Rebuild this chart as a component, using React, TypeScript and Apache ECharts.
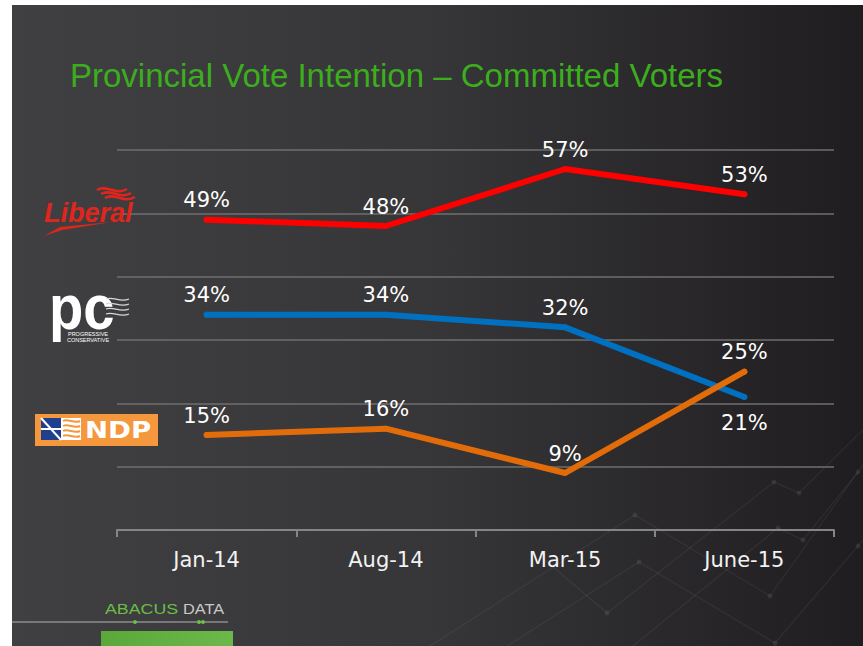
import React, { useEffect, useRef } from "react";
import * as echarts from "echarts";

const categories = ["Jan-14", "Aug-14", "Mar-15", "June-15"];
const liberal = [49, 48, 57, 53];
const pcVotes = [34, 34, 32, 21];
const ndp = [15, 16, 9, 25];
const yMin = 0;
const yMax = 60;
const yInterval = 10;

const titleText = "Provincial Vote Intention \u2013 Committed Voters";

const decoLines: number[][][] = [
  [[430, 646], [635, 515], [770, 596], [858, 472], [863, 465]],
  [[540, 556], [607, 613], [774, 482], [799, 493], [863, 430]],
  [[507, 646], [639, 562], [775, 643], [858, 546], [863, 540]],
  [[633, 646], [778, 528], [803, 540], [858, 472]],
];
const decoDots: number[][] = [
  [635, 515], [770, 596], [858, 472], [607, 613], [774, 482], [799, 493],
  [639, 562], [775, 643], [858, 546], [778, 528], [803, 540],
];

export default function App() {
  const ref = useRef<HTMLDivElement>(null);
  useEffect(() => {
    if (!ref.current) return;
    const chart = echarts.init(ref.current, undefined, { renderer: "svg" });
    const font = "DejaVu Sans";
    const mkLabel = (pos: string, dist: number) => ({
      show: true,
      position: pos,
      distance: dist,
      color: "#ffffff",
      fontSize: 21,
      fontFamily: font,
      formatter: "{c}%",
    });
    const mkSeries = (name: string, data: number[], color: string, belowIdx: number = -1) => ({
      name,
      type: "line",
      data: data.map((v, i) =>
        i === belowIdx ? { value: v, label: mkLabel("bottom", 12) } : v
      ),
      symbol: "circle",
      symbolSize: 6,
      itemStyle: { color },
      lineStyle: { color, width: 6, cap: "round", join: "round" },
      label: mkLabel("top", 6),
      emphasis: { disabled: true },
    });

    const graphics: any[] = [];
    decoLines.forEach((pts) =>
      graphics.push({
        type: "polyline",
        silent: true,
        z: -1,
        shape: { points: pts },
        style: { stroke: "rgba(255,255,255,0.06)", lineWidth: 1.2, fill: null },
      })
    );
    decoDots.forEach(([x, y]) =>
      graphics.push({
        type: "circle",
        silent: true,
        z: -1,
        shape: { cx: x, cy: y, r: 2.5 },
        style: { fill: "rgba(255,255,255,0.08)" },
      })
    );

    // Liberal logo
    graphics.push({
      type: "text",
      z: 10,
      x: 44,
      y: 226,
      style: {
        text: "Liberal",
        fill: "#e0261c",
        fontSize: 27,
        fontWeight: "bold",
        fontStyle: "italic",
        fontFamily: "Liberation Sans",
        align: "left",
        textAlign: "left",
        verticalAlign: "bottom",
        textVerticalAlign: "bottom",
      },
    });
    graphics.push({
      type: "polygon",
      z: 10,
      shape: { points: [[44, 236], [60, 227], [112, 222], [62, 230]] },
      style: { fill: "#e0261c" },
    });
    [[0, 0], [4, 4], [8, 8]].forEach(([dx, dy]) =>
      graphics.push({
        type: "bezierCurve",
        z: 10,
        shape: { x1: 97 + dx, y1: 190 + dy, cpx1: 107 + dx, cpy1: 184 + dy, cpx2: 116 + dx, cpy2: 196 + dy, x2: 127 + dx, y2: 189 + dy },
        style: { stroke: "#e0261c", lineWidth: 2.5, fill: null },
      })
    );

    // PC logo
    graphics.push({
      type: "text",
      z: 10,
      x: 49,
      y: 276,
      scaleY: 1.2,
      scaleX: 1.08,
      style: {
        text: "pc",
        fill: "#ffffff",
        fontSize: 52,
        fontWeight: "bold",
        fontFamily: "Liberation Sans",
        align: "left",
        textAlign: "left",
        verticalAlign: "top",
        textVerticalAlign: "top",
      },
    });
    graphics.push({
      type: "text",
      z: 12,
      x: 88,
      y: 331,
      style: {
        text: "PROGRESSIVE\nCONSERVATIVE",
        fill: "#ffffff",
        fontSize: 5.5,
        lineHeight: 6,
        fontFamily: "Liberation Sans",
        align: "center",
        textAlign: "center",
        verticalAlign: "top",
        textVerticalAlign: "top",
      },
    });
    [0, 5, 10, 15].forEach((dy) =>
      graphics.push({
        type: "bezierCurve",
        z: 11,
        shape: { x1: 106, y1: 299 + dy, cpx1: 113, cpy1: 296 + dy, cpx2: 120, cpy2: 303 + dy, x2: 129, y2: 299 + dy },
        style: { stroke: "#d8d8d8", lineWidth: 1.3, fill: null },
      })
    );

    // NDP logo
    graphics.push({
      type: "rect",
      z: 10,
      shape: { x: 35, y: 414, width: 123, height: 32 },
      style: { fill: "#f4973d" },
    });
    graphics.push({
      type: "rect",
      z: 11,
      shape: { x: 41, y: 418, width: 40, height: 22 },
      style: { fill: "#ffffff" },
    });
    graphics.push({
      type: "polygon",
      z: 12,
      shape: { points: [[41, 418], [61, 418], [61, 440], [41, 440]] },
      style: { fill: "#1f3f8f" },
    });
    graphics.push({
      type: "polyline",
      z: 13,
      shape: { points: [[41, 418], [61, 440]] },
      style: { stroke: "#ffffff", lineWidth: 2, fill: null },
    });
    graphics.push({
      type: "polyline",
      z: 13,
      shape: { points: [[41, 429], [61, 429]] },
      style: { stroke: "#ffffff", lineWidth: 2, fill: null },
    });
    [421, 426, 431, 436].forEach((y) =>
      graphics.push({
        type: "bezierCurve",
        z: 13,
        shape: { x1: 63, y1: y, cpx1: 68, cpy1: y - 3, cpx2: 74, cpy2: y + 3, x2: 80, y2: y },
        style: { stroke: "#f4973d", lineWidth: 2, fill: null },
      })
    );
    graphics.push({
      type: "text",
      z: 13,
      x: 85,
      y: 430,
      scaleX: 1.2,
      style: {
        text: "NDP",
        fill: "#ffffff",
        fontSize: 23,
        fontWeight: "bold",
        fontFamily: "DejaVu Sans",
        align: "left",
        textAlign: "left",
        verticalAlign: "middle",
        textVerticalAlign: "middle",
      },
    });

    // Abacus Data logo
    graphics.push({
      type: "text",
      z: 10,
      x: 105,
      y: 609,
      scaleX: 1.27,
      style: {
        text: "ABACUS",
        fill: "#6abd45",
        fontSize: 14,
        fontFamily: "Liberation Sans",
        align: "left",
        textAlign: "left",
        verticalAlign: "middle",
        textVerticalAlign: "middle",
      },
    });
    graphics.push({
      type: "text",
      z: 10,
      x: 183,
      y: 609,
      scaleX: 1.17,
      style: {
        text: "DATA",
        fill: "#c9c9c9",
        fontSize: 14,
        fontFamily: "Liberation Sans",
        align: "left",
        textAlign: "left",
        verticalAlign: "middle",
        textVerticalAlign: "middle",
      },
    });
    graphics.push({
      type: "line",
      z: 10,
      shape: { x1: 12, y1: 622, x2: 228, y2: 622 },
      style: { stroke: "#8c8c8c", lineWidth: 1.5 },
    });
    [135, 199, 203].forEach((x) =>
      graphics.push({
        type: "circle",
        z: 11,
        shape: { cx: x, cy: 622, r: 2 },
        style: { fill: "#6abd45" },
      })
    );
    graphics.push({
      type: "rect",
      z: 10,
      shape: { x: 101, y: 631, width: 132, height: 15 },
      style: {
        fill: new echarts.graphic.LinearGradient(0, 0, 1, 0, [
          { offset: 0, color: "#5aa83a" },
          { offset: 1, color: "#6cb84b" },
        ]),
      },
    });

    chart.setOption({
      animation: false,
      backgroundColor: "transparent",
      title: {
        text: titleText,
        left: 65,
        top: 54,
        textStyle: {
          color: "#3cae1e",
          fontSize: 33,
          fontWeight: "normal",
          fontFamily: "Liberation Sans",
        },
      },
      grid: { left: 117, right: 29, top: 150, bottom: 116, containLabel: false },
      xAxis: {
        type: "category",
        data: categories,
        boundaryGap: true,
        axisLine: { show: true, lineStyle: { color: "#858585", width: 2 } },
        axisTick: { show: true, length: 7, interval: 0, lineStyle: { color: "#858585", width: 2 } },
        axisLabel: { color: "#f2f2f2", fontSize: 21, fontFamily: font, margin: 19, interval: 0 },
        splitLine: { show: false },
      },
      yAxis: {
        type: "value",
        min: yMin,
        max: yMax,
        interval: yInterval,
        axisLine: { show: false },
        axisTick: { show: false },
        axisLabel: { show: false },
        splitLine: { show: true, lineStyle: { color: "#6f6f6f", width: 1.5 } },
      },
      series: [
        mkSeries("Liberal", liberal, "#fe0000"),
        mkSeries("PC", pcVotes, "#0070c0", pcVotes.length - 1),
        mkSeries("NDP", ndp, "#e36c0a"),
      ],
      graphic: { elements: graphics },
    });
    return () => chart.dispose();
  }, []);

  return (
    <div style={{ position: "absolute", left: 0, top: 0, width: 863, height: 646, background: "#ffffff" }}>
      <div
        style={{
          position: "absolute",
          left: 12,
          top: 5,
          width: 851,
          height: 641,
          background: "linear-gradient(to right, #404042 0%, #363537 50%, #1f1d1f 100%)",
        }}
      />
      <div ref={ref} style={{ position: "absolute", left: 0, top: 0, width: 863, height: 646 }} />
    </div>
  );
}
